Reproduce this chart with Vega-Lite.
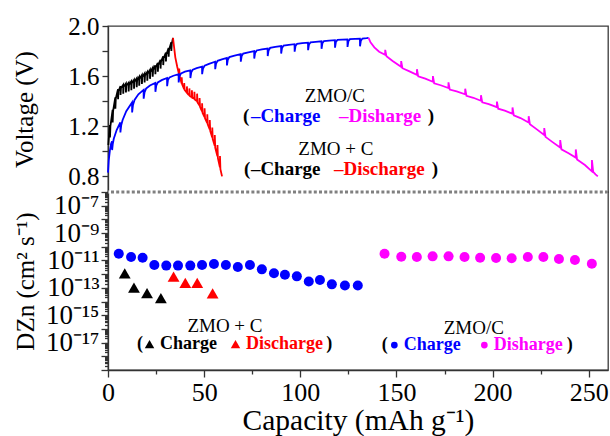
{
"$schema": "https://vega.github.io/schema/vega-lite/v6.json",
"background": "white",
"padding": {"left": 12, "top": 13, "right": 3, "bottom": 0},
"spacing": 0,
"bounds": "flush",
"config": {
  "view": {"stroke": "#3a3a3a", "strokeWidth": 1.3},
  "font": "Liberation Serif",
  "axis": {"labelFont": "Liberation Serif", "titleFont": "Liberation Serif", "labelColor": "#000", "titleColor": "#000", "titleFontWeight": "normal", "domainColor": "#333", "tickColor": "#333", "domainWidth": 1.3, "tickWidth": 1.3, "grid": false, "labelFlush": false}
},
"datasets": {
  "volt": [
    {"s":"ZMO+C charge","c":0.2,"v":1.05},{"s":"ZMO+C charge","c":0.6,"v":1.14},
    {"s":"ZMO+C charge","c":1.0,"v":1.21},{"s":"ZMO+C charge","c":1.03,"v":1.11},{"s":"ZMO+C charge","c":1.25,"v":1.2},
    {"s":"ZMO+C charge","c":2.4,"v":1.33},{"s":"ZMO+C charge","c":2.43,"v":1.23},{"s":"ZMO+C charge","c":2.65,"v":1.32},
    {"s":"ZMO+C charge","c":3.8,"v":1.43},{"s":"ZMO+C charge","c":3.83,"v":1.34},{"s":"ZMO+C charge","c":4.05,"v":1.42},
    {"s":"ZMO+C charge","c":5.2,"v":1.495},{"s":"ZMO+C charge","c":5.23,"v":1.415},{"s":"ZMO+C charge","c":5.45,"v":1.48},
    {"s":"ZMO+C charge","c":6.5,"v":1.52},{"s":"ZMO+C charge","c":6.53,"v":1.45},{"s":"ZMO+C charge","c":6.75,"v":1.505},
    {"s":"ZMO+C charge","c":7.9,"v":1.53},{"s":"ZMO+C charge","c":7.93,"v":1.46},{"s":"ZMO+C charge","c":8.15,"v":1.515},
    {"s":"ZMO+C charge","c":9.3,"v":1.54},{"s":"ZMO+C charge","c":9.33,"v":1.47},{"s":"ZMO+C charge","c":9.55,"v":1.525},
    {"s":"ZMO+C charge","c":10.7,"v":1.547},{"s":"ZMO+C charge","c":10.73,"v":1.477},{"s":"ZMO+C charge","c":10.95,"v":1.532},
    {"s":"ZMO+C charge","c":12.1,"v":1.558},{"s":"ZMO+C charge","c":12.13,"v":1.488},{"s":"ZMO+C charge","c":12.35,"v":1.543},
    {"s":"ZMO+C charge","c":13.5,"v":1.57},{"s":"ZMO+C charge","c":13.53,"v":1.5},{"s":"ZMO+C charge","c":13.75,"v":1.555},
    {"s":"ZMO+C charge","c":14.9,"v":1.582},{"s":"ZMO+C charge","c":14.93,"v":1.512},{"s":"ZMO+C charge","c":15.15,"v":1.567},
    {"s":"ZMO+C charge","c":16.2,"v":1.593},{"s":"ZMO+C charge","c":16.23,"v":1.523},{"s":"ZMO+C charge","c":16.45,"v":1.578},
    {"s":"ZMO+C charge","c":17.6,"v":1.607},{"s":"ZMO+C charge","c":17.63,"v":1.537},{"s":"ZMO+C charge","c":17.85,"v":1.592},
    {"s":"ZMO+C charge","c":19.0,"v":1.62},{"s":"ZMO+C charge","c":19.03,"v":1.55},{"s":"ZMO+C charge","c":19.25,"v":1.605},
    {"s":"ZMO+C charge","c":20.4,"v":1.633},{"s":"ZMO+C charge","c":20.43,"v":1.563},{"s":"ZMO+C charge","c":20.65,"v":1.618},
    {"s":"ZMO+C charge","c":21.8,"v":1.648},{"s":"ZMO+C charge","c":21.83,"v":1.578},{"s":"ZMO+C charge","c":22.05,"v":1.633},
    {"s":"ZMO+C charge","c":23.2,"v":1.665},{"s":"ZMO+C charge","c":23.23,"v":1.595},{"s":"ZMO+C charge","c":23.45,"v":1.65},
    {"s":"ZMO+C charge","c":24.6,"v":1.685},{"s":"ZMO+C charge","c":24.63,"v":1.615},{"s":"ZMO+C charge","c":24.85,"v":1.67},
    {"s":"ZMO+C charge","c":25.9,"v":1.705},{"s":"ZMO+C charge","c":25.93,"v":1.635},{"s":"ZMO+C charge","c":26.15,"v":1.69},
    {"s":"ZMO+C charge","c":27.3,"v":1.73},{"s":"ZMO+C charge","c":27.33,"v":1.66},{"s":"ZMO+C charge","c":27.55,"v":1.715},
    {"s":"ZMO+C charge","c":28.7,"v":1.758},{"s":"ZMO+C charge","c":28.73,"v":1.688},{"s":"ZMO+C charge","c":28.95,"v":1.743},
    {"s":"ZMO+C charge","c":30.1,"v":1.787},{"s":"ZMO+C charge","c":30.13,"v":1.717},{"s":"ZMO+C charge","c":30.35,"v":1.772},
    {"s":"ZMO+C charge","c":31.5,"v":1.825},{"s":"ZMO+C charge","c":31.53,"v":1.755},{"s":"ZMO+C charge","c":31.75,"v":1.81},
    {"s":"ZMO+C charge","c":32.9,"v":1.87},{"s":"ZMO+C charge","c":32.93,"v":1.8},{"s":"ZMO+C charge","c":33.15,"v":1.855},
    {"s":"ZMO+C charge","c":33.8,"v":1.905},

    {"s":"ZMO+C discharge","c":33.8,"v":1.905},{"s":"ZMO+C discharge","c":34.3,"v":1.84},{"s":"ZMO+C discharge","c":35,"v":1.75},{"s":"ZMO+C discharge","c":36,"v":1.675},
    {"s":"ZMO+C discharge","c":37.0,"v":1.61},{"s":"ZMO+C discharge","c":37.03,"v":1.66},{"s":"ZMO+C discharge","c":37.25,"v":1.6},
    {"s":"ZMO+C discharge","c":38.3,"v":1.54},{"s":"ZMO+C discharge","c":38.33,"v":1.59},{"s":"ZMO+C discharge","c":38.55,"v":1.535},
    {"s":"ZMO+C discharge","c":39.6,"v":1.495},{"s":"ZMO+C discharge","c":39.63,"v":1.545},{"s":"ZMO+C discharge","c":39.85,"v":1.49},
    {"s":"ZMO+C discharge","c":41.0,"v":1.468},{"s":"ZMO+C discharge","c":41.03,"v":1.518},{"s":"ZMO+C discharge","c":41.25,"v":1.463},
    {"s":"ZMO+C discharge","c":42.3,"v":1.447},{"s":"ZMO+C discharge","c":42.33,"v":1.502},{"s":"ZMO+C discharge","c":42.55,"v":1.442},
    {"s":"ZMO+C discharge","c":43.6,"v":1.432},{"s":"ZMO+C discharge","c":43.63,"v":1.487},{"s":"ZMO+C discharge","c":43.85,"v":1.427},
    {"s":"ZMO+C discharge","c":44.9,"v":1.42},{"s":"ZMO+C discharge","c":44.93,"v":1.475},{"s":"ZMO+C discharge","c":45.15,"v":1.413},
    {"s":"ZMO+C discharge","c":46.3,"v":1.4},{"s":"ZMO+C discharge","c":46.33,"v":1.46},{"s":"ZMO+C discharge","c":46.55,"v":1.39},
    {"s":"ZMO+C discharge","c":47.6,"v":1.365},{"s":"ZMO+C discharge","c":47.63,"v":1.425},{"s":"ZMO+C discharge","c":47.85,"v":1.355},
    {"s":"ZMO+C discharge","c":48.9,"v":1.318},{"s":"ZMO+C discharge","c":48.93,"v":1.383},{"s":"ZMO+C discharge","c":49.15,"v":1.308},
    {"s":"ZMO+C discharge","c":50.2,"v":1.273},{"s":"ZMO+C discharge","c":50.23,"v":1.343},{"s":"ZMO+C discharge","c":50.45,"v":1.263},
    {"s":"ZMO+C discharge","c":51.6,"v":1.225},{"s":"ZMO+C discharge","c":51.63,"v":1.295},{"s":"ZMO+C discharge","c":51.85,"v":1.215},
    {"s":"ZMO+C discharge","c":52.9,"v":1.175},{"s":"ZMO+C discharge","c":52.93,"v":1.25},{"s":"ZMO+C discharge","c":53.15,"v":1.163},
    {"s":"ZMO+C discharge","c":54.2,"v":1.11},{"s":"ZMO+C discharge","c":54.23,"v":1.19},{"s":"ZMO+C discharge","c":54.45,"v":1.098},
    {"s":"ZMO+C discharge","c":55.5,"v":1.045},{"s":"ZMO+C discharge","c":55.53,"v":1.13},{"s":"ZMO+C discharge","c":55.75,"v":1.03},
    {"s":"ZMO+C discharge","c":56.9,"v":0.96},{"s":"ZMO+C discharge","c":56.93,"v":1.05},{"s":"ZMO+C discharge","c":57.15,"v":0.945},
    {"s":"ZMO+C discharge","c":58.2,"v":0.872},{"s":"ZMO+C discharge","c":58.23,"v":0.962},{"s":"ZMO+C discharge","c":58.45,"v":0.857},
    {"s":"ZMO+C discharge","c":59.3,"v":0.8},

    {"s":"ZMO/C charge","c":0,"v":0.83},{"s":"ZMO/C charge","c":0.4,"v":0.93},{"s":"ZMO/C charge","c":1.0,"v":1.01},{"s":"ZMO/C charge","c":1.6,"v":1.06},
    {"s":"ZMO/C charge","c":2.1,"v":1.08},{"s":"ZMO/C charge","c":2.15,"v":1.01},{"s":"ZMO/C charge","c":2.5,"v":1.06},{"s":"ZMO/C charge","c":3.0,"v":1.1},{"s":"ZMO/C charge","c":4.5,"v":1.17},
    {"s":"ZMO/C charge","c":6.4,"v":1.23},{"s":"ZMO/C charge","c":6.45,"v":1.15},{"s":"ZMO/C charge","c":6.9,"v":1.21},{"s":"ZMO/C charge","c":7.6,"v":1.25},{"s":"ZMO/C charge","c":9.5,"v":1.32},
    {"s":"ZMO/C charge","c":12.5,"v":1.39},{"s":"ZMO/C charge","c":12.55,"v":1.31},{"s":"ZMO/C charge","c":13.0,"v":1.37},{"s":"ZMO/C charge","c":13.8,"v":1.41},{"s":"ZMO/C charge","c":15.8,"v":1.455},
    {"s":"ZMO/C charge","c":18.5,"v":1.49},{"s":"ZMO/C charge","c":18.55,"v":1.42},{"s":"ZMO/C charge","c":19.0,"v":1.47},{"s":"ZMO/C charge","c":19.8,"v":1.5},{"s":"ZMO/C charge","c":21.8,"v":1.525},
    {"s":"ZMO/C charge","c":24.6,"v":1.545},{"s":"ZMO/C charge","c":24.65,"v":1.475},{"s":"ZMO/C charge","c":25.1,"v":1.525},{"s":"ZMO/C charge","c":25.9,"v":1.55},{"s":"ZMO/C charge","c":27.9,"v":1.568},
    {"s":"ZMO/C charge","c":30.7,"v":1.585},{"s":"ZMO/C charge","c":30.75,"v":1.52},{"s":"ZMO/C charge","c":31.2,"v":1.57},{"s":"ZMO/C charge","c":32.0,"v":1.59},{"s":"ZMO/C charge","c":34.0,"v":1.603},
    {"s":"ZMO/C charge","c":36.7,"v":1.615},{"s":"ZMO/C charge","c":36.75,"v":1.55},{"s":"ZMO/C charge","c":37.2,"v":1.6},{"s":"ZMO/C charge","c":38.0,"v":1.622},{"s":"ZMO/C charge","c":40.0,"v":1.635},
    {"s":"ZMO/C charge","c":42.8,"v":1.645},{"s":"ZMO/C charge","c":42.85,"v":1.585},{"s":"ZMO/C charge","c":43.3,"v":1.63},{"s":"ZMO/C charge","c":44.1,"v":1.652},{"s":"ZMO/C charge","c":46.1,"v":1.664},
    {"s":"ZMO/C charge","c":48.9,"v":1.675},{"s":"ZMO/C charge","c":48.95,"v":1.615},{"s":"ZMO/C charge","c":49.4,"v":1.66},{"s":"ZMO/C charge","c":50.2,"v":1.683},{"s":"ZMO/C charge","c":52.5,"v":1.697},
    {"s":"ZMO/C charge","c":55.7,"v":1.715},{"s":"ZMO/C charge","c":55.75,"v":1.655},{"s":"ZMO/C charge","c":56.2,"v":1.7},{"s":"ZMO/C charge","c":57.0,"v":1.722},{"s":"ZMO/C charge","c":59.2,"v":1.733},
    {"s":"ZMO/C charge","c":61.8,"v":1.745},{"s":"ZMO/C charge","c":61.85,"v":1.685},{"s":"ZMO/C charge","c":62.3,"v":1.73},{"s":"ZMO/C charge","c":63.1,"v":1.752},{"s":"ZMO/C charge","c":65.8,"v":1.763},
    {"s":"ZMO/C charge","c":69.0,"v":1.775},{"s":"ZMO/C charge","c":69.05,"v":1.715},{"s":"ZMO/C charge","c":69.5,"v":1.76},{"s":"ZMO/C charge","c":70.3,"v":1.78},{"s":"ZMO/C charge","c":73.0,"v":1.79},
    {"s":"ZMO/C charge","c":76.0,"v":1.8},{"s":"ZMO/C charge","c":76.05,"v":1.74},{"s":"ZMO/C charge","c":76.5,"v":1.785},{"s":"ZMO/C charge","c":77.3,"v":1.805},{"s":"ZMO/C charge","c":80.0,"v":1.814},
    {"s":"ZMO/C charge","c":83.0,"v":1.82},{"s":"ZMO/C charge","c":83.05,"v":1.76},{"s":"ZMO/C charge","c":83.5,"v":1.805},{"s":"ZMO/C charge","c":84.3,"v":1.825},{"s":"ZMO/C charge","c":87.0,"v":1.833},
    {"s":"ZMO/C charge","c":90.0,"v":1.84},{"s":"ZMO/C charge","c":90.05,"v":1.78},{"s":"ZMO/C charge","c":90.5,"v":1.825},{"s":"ZMO/C charge","c":91.3,"v":1.844},{"s":"ZMO/C charge","c":94.0,"v":1.85},
    {"s":"ZMO/C charge","c":97.0,"v":1.855},{"s":"ZMO/C charge","c":97.05,"v":1.795},{"s":"ZMO/C charge","c":97.5,"v":1.84},{"s":"ZMO/C charge","c":98.3,"v":1.858},{"s":"ZMO/C charge","c":101.0,"v":1.863},
    {"s":"ZMO/C charge","c":104.0,"v":1.867},{"s":"ZMO/C charge","c":104.05,"v":1.807},{"s":"ZMO/C charge","c":104.5,"v":1.852},{"s":"ZMO/C charge","c":105.3,"v":1.869},{"s":"ZMO/C charge","c":108.0,"v":1.874},
    {"s":"ZMO/C charge","c":111.0,"v":1.878},{"s":"ZMO/C charge","c":111.05,"v":1.818},{"s":"ZMO/C charge","c":111.5,"v":1.863},{"s":"ZMO/C charge","c":112.3,"v":1.88},{"s":"ZMO/C charge","c":115.0,"v":1.884},
    {"s":"ZMO/C charge","c":118.0,"v":1.887},{"s":"ZMO/C charge","c":118.05,"v":1.827},{"s":"ZMO/C charge","c":118.5,"v":1.872},{"s":"ZMO/C charge","c":119.3,"v":1.889},{"s":"ZMO/C charge","c":121.8,"v":1.891},
    {"s":"ZMO/C charge","c":124.5,"v":1.893},{"s":"ZMO/C charge","c":124.55,"v":1.833},{"s":"ZMO/C charge","c":125.0,"v":1.878},{"s":"ZMO/C charge","c":125.8,"v":1.895},{"s":"ZMO/C charge","c":128.5,"v":1.897},
    {"s":"ZMO/C charge","c":131.0,"v":1.898},{"s":"ZMO/C charge","c":131.05,"v":1.838},{"s":"ZMO/C charge","c":131.5,"v":1.883},{"s":"ZMO/C charge","c":132.3,"v":1.9},{"s":"ZMO/C charge","c":134.5,"v":1.903},{"s":"ZMO/C charge","c":135.5,"v":1.905},

    {"s":"ZMO/C discharge","c":135.5,"v":1.905},{"s":"ZMO/C discharge","c":136.5,"v":1.87},{"s":"ZMO/C discharge","c":138.5,"v":1.83},{"s":"ZMO/C discharge","c":141,"v":1.795},
    {"s":"ZMO/C discharge","c":144.1,"v":1.77},{"s":"ZMO/C discharge","c":144.15,"v":1.81},{"s":"ZMO/C discharge","c":144.8,"v":1.758},{"s":"ZMO/C discharge","c":148,"v":1.72},
    {"s":"ZMO/C discharge","c":152.4,"v":1.675},{"s":"ZMO/C discharge","c":152.45,"v":1.72},{"s":"ZMO/C discharge","c":153.1,"v":1.663},{"s":"ZMO/C discharge","c":156.5,"v":1.64},
    {"s":"ZMO/C discharge","c":160.6,"v":1.61},{"s":"ZMO/C discharge","c":160.65,"v":1.655},{"s":"ZMO/C discharge","c":161.3,"v":1.598},{"s":"ZMO/C discharge","c":165,"v":1.58},
    {"s":"ZMO/C discharge","c":168.9,"v":1.555},{"s":"ZMO/C discharge","c":168.95,"v":1.6},{"s":"ZMO/C discharge","c":169.6,"v":1.543},{"s":"ZMO/C discharge","c":173,"v":1.527},
    {"s":"ZMO/C discharge","c":177.0,"v":1.505},{"s":"ZMO/C discharge","c":177.05,"v":1.55},{"s":"ZMO/C discharge","c":177.7,"v":1.493},{"s":"ZMO/C discharge","c":181.3,"v":1.478},
    {"s":"ZMO/C discharge","c":185.7,"v":1.455},{"s":"ZMO/C discharge","c":185.75,"v":1.5},{"s":"ZMO/C discharge","c":186.4,"v":1.443},{"s":"ZMO/C discharge","c":190,"v":1.427},
    {"s":"ZMO/C discharge","c":193.9,"v":1.403},{"s":"ZMO/C discharge","c":193.95,"v":1.448},{"s":"ZMO/C discharge","c":194.6,"v":1.391},{"s":"ZMO/C discharge","c":198,"v":1.376},
    {"s":"ZMO/C discharge","c":202.2,"v":1.352},{"s":"ZMO/C discharge","c":202.25,"v":1.397},{"s":"ZMO/C discharge","c":202.9,"v":1.34},{"s":"ZMO/C discharge","c":206.3,"v":1.324},
    {"s":"ZMO/C discharge","c":210.3,"v":1.3},{"s":"ZMO/C discharge","c":210.35,"v":1.35},{"s":"ZMO/C discharge","c":211,"v":1.287},{"s":"ZMO/C discharge","c":214.5,"v":1.265},
    {"s":"ZMO/C discharge","c":218.7,"v":1.23},{"s":"ZMO/C discharge","c":218.75,"v":1.28},{"s":"ZMO/C discharge","c":219.4,"v":1.215},{"s":"ZMO/C discharge","c":223,"v":1.175},
    {"s":"ZMO/C discharge","c":226.8,"v":1.13},{"s":"ZMO/C discharge","c":226.85,"v":1.185},{"s":"ZMO/C discharge","c":227.5,"v":1.115},{"s":"ZMO/C discharge","c":231,"v":1.075},
    {"s":"ZMO/C discharge","c":235.1,"v":1.03},{"s":"ZMO/C discharge","c":235.15,"v":1.09},{"s":"ZMO/C discharge","c":235.8,"v":1.015},{"s":"ZMO/C discharge","c":239.5,"v":0.985},
    {"s":"ZMO/C discharge","c":243.2,"v":0.95},{"s":"ZMO/C discharge","c":243.25,"v":1.015},{"s":"ZMO/C discharge","c":243.9,"v":0.935},{"s":"ZMO/C discharge","c":248,"v":0.89},
    {"s":"ZMO/C discharge","c":251.6,"v":0.84},{"s":"ZMO/C discharge","c":251.65,"v":0.93},{"s":"ZMO/C discharge","c":252.3,"v":0.835},{"s":"ZMO/C discharge","c":253.5,"v":0.815},{"s":"ZMO/C discharge","c":254.7,"v":0.8}
  ],
  "toptext": [
    {"k":"title","x":118,"y":1.44,"t":"ZMO/C","s":"text"},
    {"k":"title","x":118.5,"y":1.016,"t":"ZMO + C","s":"text"},
    {"k":"leg","x":70.2,"y":1.28,"t":"(","s":"text"},
    {"k":"leg","x":74.3,"y":1.28,"t":"–Charge","s":"ZMO/C charge"},
    {"k":"leg","x":120.1,"y":1.28,"t":"–Disharge","s":"ZMO/C discharge"},
    {"k":"leg","x":166.3,"y":1.28,"t":")","s":"text"},
    {"k":"leg","x":70.7,"y":0.856,"t":"(","s":"text"},
    {"k":"leg","x":74.3,"y":0.856,"t":"–Charge","s":"ZMO+C charge"},
    {"k":"leg","x":117.5,"y":0.856,"t":"–Discharge","s":"ZMO+C discharge"},
    {"k":"leg","x":168.4,"y":0.856,"t":")","s":"text"}
  ],
  "diff": [
    {"s":"ZMO/C charge","c":5.6,"d":3.1e-11},{"s":"ZMO/C charge","c":12.0,"d":1.78e-11},{"s":"ZMO/C charge","c":18.0,"d":1.58e-11},
    {"s":"ZMO/C charge","c":24.1,"d":4.7e-12},{"s":"ZMO/C charge","c":30.3,"d":4.2e-12},{"s":"ZMO/C charge","c":36.4,"d":4.2e-12},
    {"s":"ZMO/C charge","c":42.8,"d":4.2e-12},{"s":"ZMO/C charge","c":48.9,"d":4.7e-12},{"s":"ZMO/C charge","c":55.1,"d":5.5e-12},
    {"s":"ZMO/C charge","c":61.3,"d":4.7e-12},{"s":"ZMO/C charge","c":67.5,"d":3.3e-12},{"s":"ZMO/C charge","c":73.8,"d":4.7e-12},
    {"s":"ZMO/C charge","c":80.0,"d":2.24e-12},{"s":"ZMO/C charge","c":86.3,"d":1.15e-12},{"s":"ZMO/C charge","c":92.0,"d":9.1e-13},
    {"s":"ZMO/C charge","c":98.2,"d":6.9e-13},{"s":"ZMO/C charge","c":104.4,"d":2.9e-13},{"s":"ZMO/C charge","c":110.2,"d":3.7e-13},
    {"s":"ZMO/C charge","c":116.4,"d":1.8e-13},{"s":"ZMO/C charge","c":123.2,"d":1.5e-13},{"s":"ZMO/C charge","c":129.9,"d":1.5e-13},
    {"s":"ZMO/C discharge","c":143.8,"d":3.1e-11},{"s":"ZMO/C discharge","c":152.5,"d":1.86e-11},{"s":"ZMO/C discharge","c":160.6,"d":1.78e-11},
    {"s":"ZMO/C discharge","c":168.8,"d":2.0e-11},{"s":"ZMO/C discharge","c":177.1,"d":2.0e-11},{"s":"ZMO/C discharge","c":185.4,"d":1.78e-11},
    {"s":"ZMO/C discharge","c":193.5,"d":1.58e-11},{"s":"ZMO/C discharge","c":201.8,"d":1.51e-11},{"s":"ZMO/C discharge","c":209.9,"d":1.45e-11},
    {"s":"ZMO/C discharge","c":218.3,"d":1.78e-11},{"s":"ZMO/C discharge","c":226.4,"d":1.78e-11},{"s":"ZMO/C discharge","c":234.5,"d":1.29e-11},
    {"s":"ZMO/C discharge","c":242.8,"d":1.07e-11},{"s":"ZMO/C discharge","c":251.6,"d":5.75e-12},
    {"s":"ZMO+C charge","c":8.7,"d":1.15e-12},{"s":"ZMO+C charge","c":13.5,"d":1.02e-13},{"s":"ZMO+C charge","c":20.3,"d":4.2e-14},{"s":"ZMO+C charge","c":27.5,"d":1.74e-14},
    {"s":"ZMO+C discharge","c":34.1,"d":6.5e-13},{"s":"ZMO+C discharge","c":40.2,"d":2.34e-13},{"s":"ZMO+C discharge","c":46.4,"d":2.34e-13},{"s":"ZMO+C discharge","c":54.4,"d":4.0e-14}
  ],
  "bottext": [
    {"k":"title","x":60.8,"y":1.62e-16,"t":"ZMO + C","s":"text"},
    {"k":"title","x":190.2,"y":1.17e-16,"t":"ZMO/C","s":"text"},
    {"k":"leg","x":15.1,"y":7.9e-18,"t":"(","s":"text"},
    {"k":"leg","x":27,"y":7.9e-18,"t":"Charge","s":"ZMO+C charge"},
    {"k":"leg","x":71.7,"y":7.9e-18,"t":"Discharge","s":"ZMO+C discharge"},
    {"k":"leg","x":113.5,"y":7.9e-18,"t":")","s":"text"},
    {"k":"leg","x":142.4,"y":6.6e-18,"t":"(","s":"text"},
    {"k":"leg","x":153.8,"y":6.6e-18,"t":"Charge","s":"ZMO/C charge"},
    {"k":"leg","x":200.6,"y":6.6e-18,"t":"Disharge","s":"ZMO/C discharge"},
    {"k":"leg","x":238.6,"y":6.6e-18,"t":")","s":"text"}
  ],
  "legsym": [
    {"x":21.6,"y":7.9e-18,"s":"ZMO+C charge"},
    {"x":66.3,"y":7.9e-18,"s":"ZMO+C discharge"},
    {"x":148.9,"y":6.6e-18,"s":"ZMO/C charge"},
    {"x":195.7,"y":6.6e-18,"s":"ZMO/C discharge"}
  ],
  "one": [{"n": 1}]
},
"vconcat": [
  {
    "width": 500, "height": 166,
    "layer": [
      {
        "data": {"name": "volt"},
        "mark": {"type": "line", "strokeWidth": 1.8},
        "encoding": {
          "x": {"field": "c", "type": "quantitative", "scale": {"domain": [0, 260], "nice": false, "zero": false}, "axis": null},
          "y": {"field": "v", "type": "quantitative", "scale": {"domain": [0.675, 2.0], "nice": false, "zero": false},
                "axis": {"values": [0.8, 1.0, 1.2, 1.4, 1.6, 1.8, 2.0], "labelExpr": "indexof([0.8, 1.2, 1.6, 2.0], datum.value) >= 0 ? format(datum.value, '.1f') : ''",
                         "tickSize": 6, "labelFontSize": 25, "labelPadding": 3, "title": "Voltage (V)", "titleFontSize": 25, "titlePadding": 30}},
          "color": {"field": "s", "type": "nominal", "legend": null,
                    "scale": {"domain": ["ZMO+C charge", "ZMO+C discharge", "ZMO/C charge", "ZMO/C discharge", "text"], "range": ["#000000", "#ff0000", "#0000ff", "#ff00ff", "#000000"]}},
          "order": {"value": null}
        }
      },
      {
        "data": {"name": "toptext"},
        "transform": [{"filter": "datum.k == 'title'"}],
        "mark": {"type": "text", "fontSize": 19, "align": "center", "baseline": "middle", "font": "Liberation Serif"},
        "encoding": {
          "x": {"field": "x", "type": "quantitative", "axis": null},
          "y": {"field": "y", "type": "quantitative", "axis": null},
          "text": {"field": "t"},
          "color": {"field": "s", "type": "nominal", "legend": null}
        }
      },
      {
        "data": {"name": "toptext"},
        "transform": [{"filter": "datum.k == 'leg'"}],
        "mark": {"type": "text", "fontSize": 19, "fontWeight": "bold", "align": "left", "baseline": "middle", "font": "Liberation Serif"},
        "encoding": {
          "x": {"field": "x", "type": "quantitative", "axis": null},
          "y": {"field": "y", "type": "quantitative", "axis": null},
          "text": {"field": "t"},
          "color": {"field": "s", "type": "nominal", "legend": null}
        }
      }
    ],
    "resolve": {"axis": {"x": "independent", "y": "independent"}}
  },
  {
    "width": 500, "height": 178,
    "layer": [
      {
        "data": {"name": "diff"},
        "transform": [{"filter": "datum.s == 'ZMO/C charge' || datum.s == 'ZMO/C discharge'"}],
        "mark": {"type": "point", "filled": true, "size": 100, "opacity": 1},
        "encoding": {
          "x": {"field": "c", "type": "quantitative", "scale": {"domain": [0, 260], "nice": false, "zero": false},
                "axis": {"values": [0, 25, 50, 75, 100, 125, 150, 175, 200, 225, 250], "labelExpr": "datum.value % 50 == 0 ? format(datum.value, 'd') : ''",
                         "tickSize": {"condition": {"test": "datum.value % 50 == 0", "value": 7}, "value": 4},
                         "labelFontSize": 26, "labelPadding": 2, "title": "Capacity (mAh g⁻¹)", "titleFontSize": 29.5, "titlePadding": 1}},
          "y": {"field": "d", "type": "quantitative", "scale": {"type": "log", "domain": [1e-19, 1e-6], "nice": false},
                "axis": {"tickCount": 200, "labelOverlap": false,
                         "labelExpr": "abs(log(datum.value)/LN10 - round(log(datum.value)/LN10)) > 0.01 ? '' : round(log(datum.value)/LN10) == -7 ? '10⁻⁷' : round(log(datum.value)/LN10) == -9 ? '10⁻⁹' : round(log(datum.value)/LN10) == -11 ? '10⁻¹¹' : round(log(datum.value)/LN10) == -13 ? '10⁻¹³' : round(log(datum.value)/LN10) == -15 ? '10⁻¹⁵' : round(log(datum.value)/LN10) == -17 ? '10⁻¹⁷' : ''",
                         "tickSize": {"condition": {"test": "abs(log(datum.value)/LN10 - round(log(datum.value)/LN10)) < 0.01", "value": 7}, "value": 3.5},
                         "labelFontSize": 27, "labelPadding": 2, "title": "DZn (cm² s⁻¹)", "titleFontSize": 25, "titlePadding": 7}},
          "color": {"field": "s", "type": "nominal", "legend": null,
                    "scale": {"domain": ["ZMO+C charge", "ZMO+C discharge", "ZMO/C charge", "ZMO/C discharge", "text"], "range": ["#000000", "#ff0000", "#0000ff", "#ff00ff", "#000000"]}},
          "shape": {"field": "s", "type": "nominal", "legend": null,
                    "scale": {"domain": ["ZMO+C charge", "ZMO+C discharge", "ZMO/C charge", "ZMO/C discharge"], "range": ["triangle-up", "triangle-up", "circle", "circle"]}}
        }
      },
      {
        "data": {"name": "diff"},
        "transform": [{"filter": "datum.s == 'ZMO+C charge' || datum.s == 'ZMO+C discharge'"}],
        "mark": {"type": "point", "filled": true, "size": 140, "opacity": 1},
        "encoding": {
          "x": {"field": "c", "type": "quantitative", "axis": null},
          "y": {"field": "d", "type": "quantitative", "axis": null},
          "color": {"field": "s", "type": "nominal", "legend": null},
          "shape": {"field": "s", "type": "nominal", "legend": null}
        }
      },
      {
        "data": {"name": "bottext"},
        "transform": [{"filter": "datum.k == 'title'"}],
        "mark": {"type": "text", "fontSize": 19, "align": "center", "baseline": "middle", "font": "Liberation Serif"},
        "encoding": {
          "x": {"field": "x", "type": "quantitative", "axis": null},
          "y": {"field": "y", "type": "quantitative", "axis": null},
          "text": {"field": "t"},
          "color": {"field": "s", "type": "nominal", "legend": null}
        }
      },
      {
        "data": {"name": "bottext"},
        "transform": [{"filter": "datum.k == 'leg'"}],
        "mark": {"type": "text", "fontSize": 18, "fontWeight": "bold", "align": "left", "baseline": "middle", "font": "Liberation Serif"},
        "encoding": {
          "x": {"field": "x", "type": "quantitative", "axis": null},
          "y": {"field": "y", "type": "quantitative", "axis": null},
          "text": {"field": "t"},
          "color": {"field": "s", "type": "nominal", "legend": null}
        }
      },
      {
        "data": {"name": "legsym"},
        "transform": [{"filter": "datum.s == 'ZMO+C charge' || datum.s == 'ZMO+C discharge'"}],
        "mark": {"type": "point", "filled": true, "size": 90, "opacity": 1},
        "encoding": {
          "x": {"field": "x", "type": "quantitative", "axis": null},
          "y": {"field": "y", "type": "quantitative", "axis": null},
          "color": {"field": "s", "type": "nominal", "legend": null},
          "shape": {"field": "s", "type": "nominal", "legend": null}
        }
      },
      {
        "data": {"name": "legsym"},
        "transform": [{"filter": "datum.s == 'ZMO/C charge' || datum.s == 'ZMO/C discharge'"}],
        "mark": {"type": "point", "filled": true, "size": 45, "opacity": 1},
        "encoding": {
          "x": {"field": "x", "type": "quantitative", "axis": null},
          "y": {"field": "y", "type": "quantitative", "axis": null},
          "color": {"field": "s", "type": "nominal", "legend": null},
          "shape": {"field": "s", "type": "nominal", "legend": null}
        }
      },
      {
        "data": {"name": "one"},
        "mark": {"type": "rule", "strokeWidth": 2.4, "color": "#ffffff"},
        "encoding": {"y": {"datum": 1e-6, "type": "quantitative", "axis": null}}
      },
      {
        "data": {"name": "one"},
        "mark": {"type": "rule", "strokeDash": [3, 2.2], "strokeWidth": 3, "color": "#808080"},
        "encoding": {"y": {"datum": 1e-6, "type": "quantitative", "axis": null}}
      }
    ],
    "resolve": {"axis": {"x": "independent", "y": "independent"}}
  }
]
}
